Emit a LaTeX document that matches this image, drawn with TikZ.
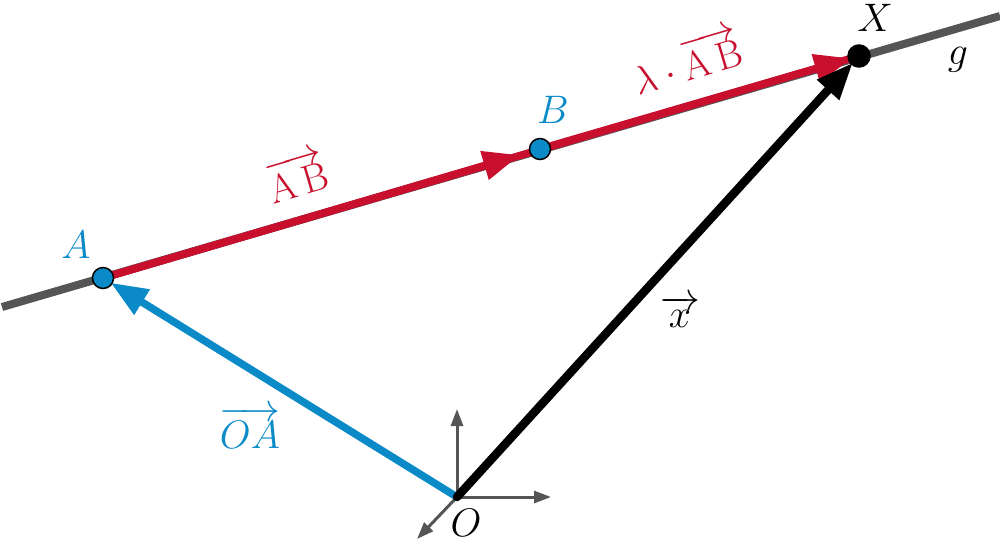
\documentclass[tikz,border=0pt]{standalone}
\usepackage{amsmath}
\usetikzlibrary{arrows.meta}
\definecolor{cred}{HTML}{C8102E}
\definecolor{cblue}{HTML}{0A8AC6}
\definecolor{cgray}{HTML}{555555}
\begin{document}
\begin{tikzpicture}[x=1pt,y=-1pt,
  lbl/.style={font=\Huge, inner sep=0pt, scale=1.6, transform shape},
  pt/.style={circle, draw=black, line width=1.5pt, minimum size=21pt, inner sep=0pt},
  bigtip/.style={-{Triangle[length=37pt,width=28pt]}},
  axis/.style={cgray, line width=3pt, -{Triangle[length=17pt,width=12pt]}}]
\useasboundingbox (0,0) rectangle (1000,547);
% points
\coordinate (L) at (2,307);
\coordinate (R) at (1000,16);
\coordinate (Ac) at (103,278);
\coordinate (Bc) at (540,149);
\coordinate (Xc) at (859,56);
\coordinate (Oc) at (457,497);
\coordinate (Mid) at (520,155);
% line g
\draw[cgray, line width=8pt] (L) -- (R);
% red vectors
\draw[cred, line width=7.5pt] (Ac) -- (Xc);
\draw[cred, line width=7.5pt, bigtip, shorten >=0pt] (Ac) -- (Mid);
\draw[cred, line width=7.5pt, bigtip, shorten >=8pt] (Bc) -- (Xc);
% axes
\coordinate (Yup) at (457,409);
\coordinate (Xr) at (551,497);
\coordinate (Zd) at (417,539);
\draw[axis] (Oc) -- (Yup);
\draw[axis] (Oc) -- (Xr);
\draw[axis] (Oc) -- (Zd);
% blue and black vectors
\draw[cblue, line width=7.5pt, bigtip, shorten >=9pt, line cap=round] (Oc) -- (Ac);
\draw[black, line width=8.5pt, bigtip, shorten >=9pt, line cap=round] (Oc) -- (Xc);
% point markers
\node[pt, fill=cblue] (A) at (Ac) {};
\node[pt, fill=cblue] (B) at (Bc) {};
\node[pt, fill=black, minimum size=22pt] (X) at (Xc) {};
% labels
\node[lbl, text=cblue] (lA) at (76,245) {$A$};
\node[lbl, text=cblue] (lB) at (553,110) {$B$};
\node[lbl] (lX) at (875,18) {$X$};
\node[lbl] (lg) at (958,60) {$g$};
\node[lbl] (lO) at (466,523) {$O$};
\node[lbl, text=cblue] (lOA) at (250,428) {$\overrightarrow{OA}$};
\node[lbl] (lx) at (680,312) {$\overrightarrow{x}$};
\node[lbl, text=cred, rotate=16.4] (lAB) at (297,176) {$\overrightarrow{\mathrm{A\,B}}$};
\node[lbl, text=cred, rotate=16.4] (lLAB) at (686,60) {$\lambda\cdot\overrightarrow{\mathrm{A\,B}}$};
\end{tikzpicture}
\end{document}
